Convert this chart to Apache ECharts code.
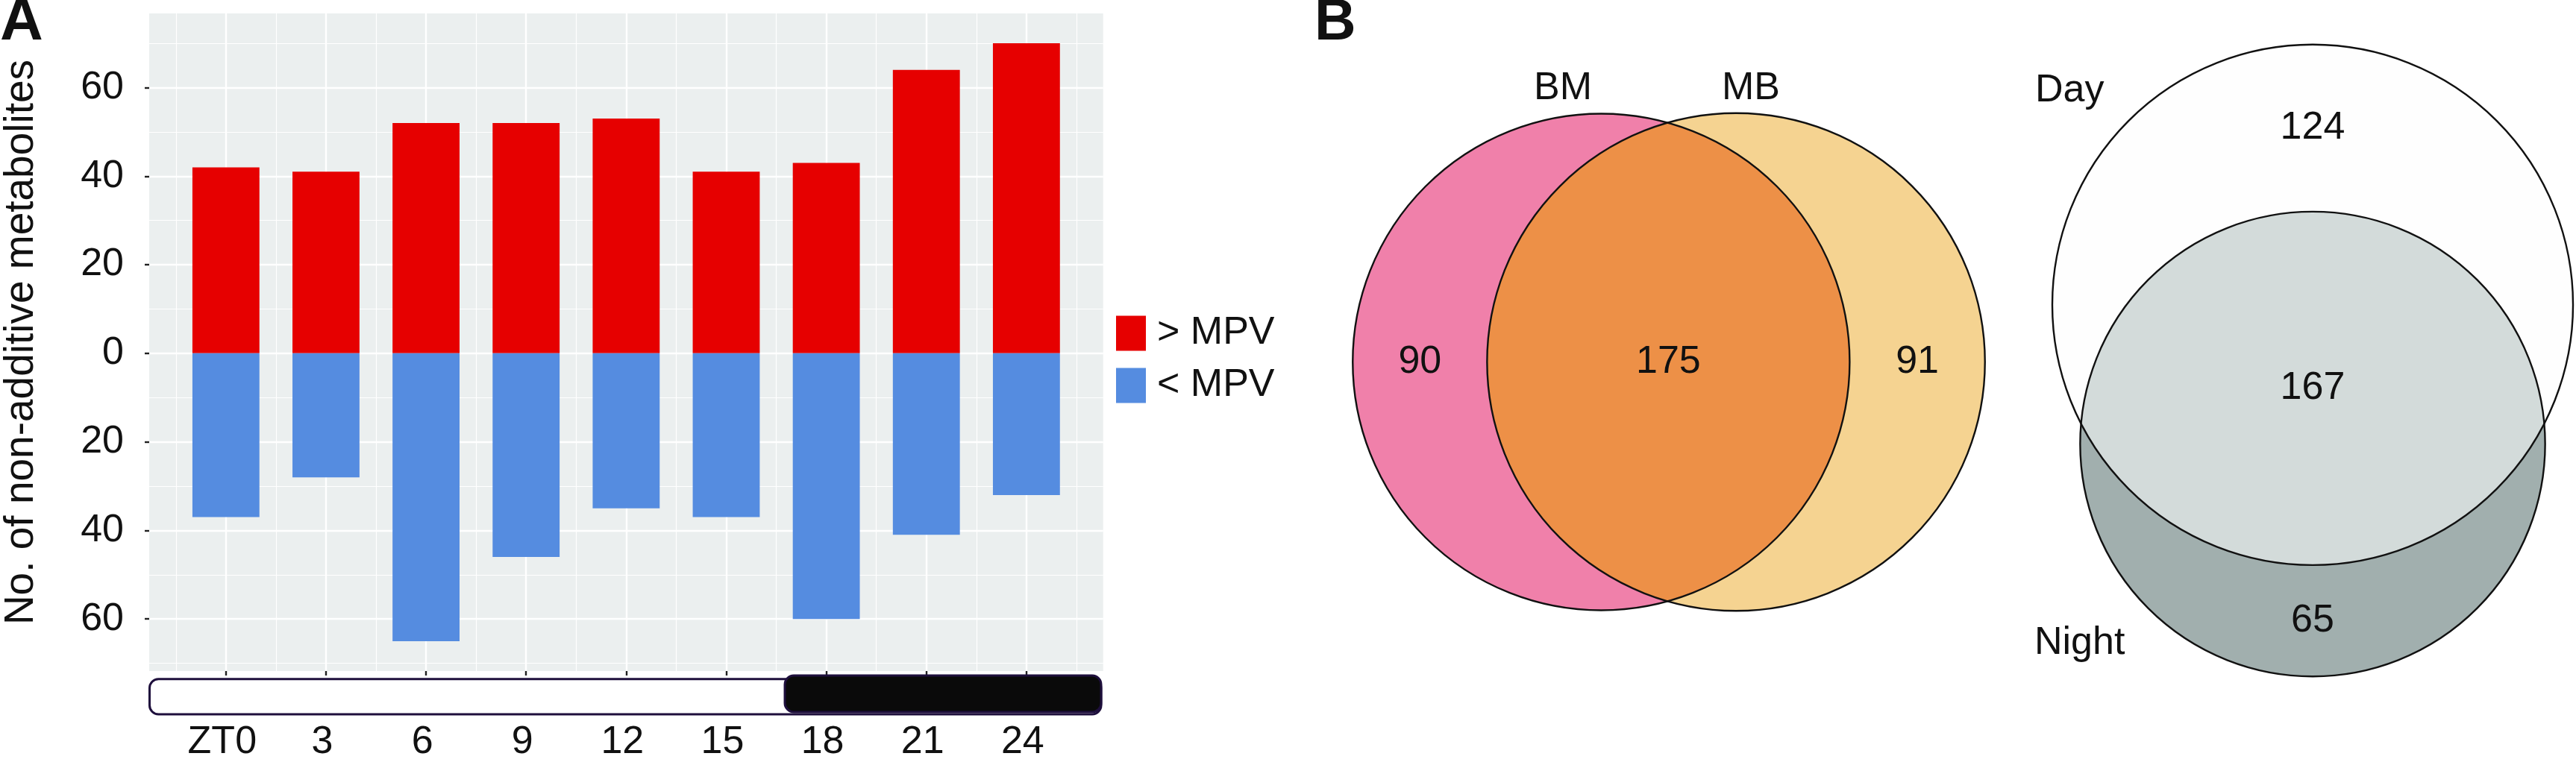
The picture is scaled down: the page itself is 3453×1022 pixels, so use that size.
<!DOCTYPE html>
<html><head><meta charset="utf-8">
<script src="https://cdn.jsdelivr.net/npm/echarts@6/dist/echarts.min.js"></script>
<style>html,body{margin:0;padding:0;background:#fff}#c{width:3453px;height:1022px}</style>
</head><body><div id="c"></div>
<script>
// ---------------- data ----------------
const timePoints = [0, 3, 6, 9, 12, 15, 18, 21, 24];
const timeLabels = ['ZT0', '3', '6', '9', '12', '15', '18', '21', '24'];
const aboveMPV = [42, 41, 52, 52, 53, 41, 43, 64, 70];
const belowMPV = [37, 28, 65, 46, 35, 37, 60, 41, 32];
const yTickValues = [-60, -40, -20, 0, 20, 40, 60];
const yMinorValues = [-70, -50, -30, -10, 10, 30, 50, 70];
const xMinorValues = [-1.5, 1.5, 4.5, 7.5, 10.5, 13.5, 16.5, 19.5, 22.5, 25.5];
const photoperiodNames = ['light', 'dark'];
const photoperiodStart = [-2.16, 16.8];
const photoperiodEnd = [26.24, 26.24];

const vennSetA = ['BM', 'Day'];
const vennSetB = ['MB', 'Night'];
const vennOnlyA = [90, 124];
const vennBoth = [175, 167];
const vennOnlyB = [91, 65];

// ---------------- layout / style ----------------
const FONT = '"Liberation Sans", Arial, Helvetica, sans-serif';
const TXT = '#111';
const GA = { left: 194.2, top: 18, width: 1284.5, height: 887.2 };
const X_MIN = -2.3, X_MAX = 26.3, Y_MIN = -71.75, Y_MAX = 76.75;
const BAR_W = 2 / (X_MAX - X_MIN) * GA.width;

const VENN_K = 20.46; // px per sqrt(count)
const VENN_LAYOUT = [
  { orient: 'h', center: [537, 485.5],
    fills: ['#F080AA', '#F5D391', '#ED9047'],
    labelA: { x: 395, y: 119, align: 'center' }, labelB: { x: 647, y: 119, align: 'center' } },
  { orient: 'v', center: [1400, 483.5],
    fills: ['#FEFEFE', '#A1AFAE', '#D3DBDA'],
    labelA: { x: 1028, y: 122, align: 'left' }, labelB: { x: 1027, y: 863, align: 'left' } }
];

function lensArea(r1, r2, d) {
  if (d >= r1 + r2) return 0;
  if (d <= Math.abs(r1 - r2)) return Math.PI * Math.min(r1, r2) ** 2;
  const a1 = Math.acos((d * d + r1 * r1 - r2 * r2) / (2 * d * r1));
  const a2 = Math.acos((d * d + r2 * r2 - r1 * r1) / (2 * d * r2));
  return r1 * r1 * (a1 - Math.sin(2 * a1) / 2) + r2 * r2 * (a2 - Math.sin(2 * a2) / 2);
}
function solveDistance(r1, r2, target) {
  let lo = Math.abs(r1 - r2), hi = r1 + r2;
  for (let k = 0; k < 80; k++) {
    const mid = (lo + hi) / 2;
    if (lensArea(r1, r2, mid) > target) lo = mid; else hi = mid;
  }
  return (lo + hi) / 2;
}

function renderVenn(params, api) {
  const i = params.dataIndex;
  const L = VENN_LAYOUT[i];
  const nA = vennOnlyA[i] + vennBoth[i], nB = vennOnlyB[i] + vennBoth[i];
  const rA = VENN_K * Math.sqrt(nA), rB = VENN_K * Math.sqrt(nB);
  const d = solveDistance(rA, rB, Math.PI * VENN_K * VENN_K * vennBoth[i]);
  const span = rA + d + rB;
  const dir = L.orient === 'h' ? [1, 0] : [0, 1];
  const start = L.orient === 'h' ? [L.center[0] - span / 2, L.center[1]] : [L.center[0], L.center[1] - span / 2];
  const cA = [start[0] + dir[0] * rA, start[1] + dir[1] * rA];
  const cB = [cA[0] + dir[0] * d, cA[1] + dir[1] * d];
  const px = p => api.coord(p);
  const sz = r => api.size([r, r])[0];
  const thAB = Math.atan2(dir[1], dir[0]), thBA = thAB + Math.PI;
  const aA = Math.acos((d * d + rA * rA - rB * rB) / (2 * d * rA));
  const aB = Math.acos((d * d + rB * rB - rA * rA) / (2 * d * rB));
  const pts = [];
  const N = 240;
  for (let k = 0; k <= N; k++) { const t = thAB - aA + 2 * aA * k / N; pts.push(px([cA[0] + rA * Math.cos(t), cA[1] + rA * Math.sin(t)])); }
  for (let k = 0; k <= N; k++) { const t = thBA - aB + 2 * aB * k / N; pts.push(px([cB[0] + rB * Math.cos(t), cB[1] + rB * Math.sin(t)])); }
  const pA = px(cA), pB = px(cB);
  const at = t => px([cA[0] + dir[0] * t, cA[1] + dir[1] * t]);
  const posOnlyA = at((-rA + d - rB) / 2);
  const posBoth = at((d - rB + rA) / 2);
  const posOnlyB = at((rA + d + rB) / 2);
  const txt = (s, p, align) => ({ type: 'text', style: { text: String(s), x: p[0], y: p[1], fill: TXT, fontSize: 52, fontFamily: FONT, align: align || 'center', verticalAlign: 'middle' } });
  const stroke = { fill: 'none', stroke: '#111', lineWidth: 2.4 };
  const la = px([L.labelA.x, L.labelA.y]), lb = px([L.labelB.x, L.labelB.y]);
  return {
    type: 'group',
    children: [
      { type: 'circle', shape: { cx: pA[0], cy: pA[1], r: sz(rA) }, style: { fill: L.fills[0] } },
      { type: 'circle', shape: { cx: pB[0], cy: pB[1], r: sz(rB) }, style: { fill: L.fills[1] } },
      { type: 'polygon', shape: { points: pts }, style: { fill: L.fills[2] } },
      { type: 'circle', shape: { cx: pA[0], cy: pA[1], r: sz(rA) }, style: stroke },
      { type: 'circle', shape: { cx: pB[0], cy: pB[1], r: sz(rB) }, style: stroke },
      txt(vennOnlyA[i], posOnlyA), txt(vennBoth[i], posBoth), txt(vennOnlyB[i], posOnlyB),
      txt(vennSetA[i], la, L.labelA.align), txt(vennSetB[i], lb, L.labelB.align)
    ]
  };
}

function renderPhoto(params, api) {
  const i = params.dataIndex;
  const dark = photoperiodNames[i] === 'dark';
  const y0 = dark ? 0 : 0.09, y1 = dark ? 0.94 : 1;
  const p0 = api.coord([api.value(0), y0]);
  const p1 = api.coord([api.value(1), y1]);
  return {
    type: 'rect',
    shape: { x: p0[0], y: p0[1], width: p1[0] - p0[0], height: p1[1] - p0[1], r: 12 },
    style: { fill: dark ? '#0A0A0A' : '#FFFFFF', stroke: '#1E0F3C', lineWidth: 3 }
  };
}

const noZero = { show: false, onZero: false };
const chart = echarts.init(document.getElementById('c'), null, { renderer: 'canvas' });
const option = {
  animation: false,
  backgroundColor: '#FFFFFF',
  textStyle: { fontFamily: FONT },
  title: [
    { text: 'A', left: 0, top: -9, padding: 0, textStyle: { fontSize: 80, fontWeight: 'bold', color: TXT, fontFamily: FONT } },
    { text: 'B', left: 1762, top: -7, padding: 0, textStyle: { fontSize: 77, fontWeight: 'bold', color: TXT, fontFamily: FONT } }
  ],
  legend: {
    orient: 'vertical', left: 1491, top: 416, itemWidth: 40, itemHeight: 47, itemGap: 18,
    icon: 'rect', selectedMode: false, data: ['> MPV', '< MPV'],
    textStyle: { fontSize: 52, color: TXT, fontFamily: FONT, padding: [0, 0, 0, 10] }
  },
  grid: [
    { left: GA.left, top: GA.top, width: GA.width, height: GA.height, show: true, backgroundColor: '#EBEFEF', borderWidth: 0 },
    { left: GA.left, top: 906, width: GA.width, height: 52 },
    { left: 1700, top: 0, width: 1753, height: 1022 }
  ],
  xAxis: [
    { type: 'value', gridIndex: 0, min: X_MIN, max: X_MAX, position: 'bottom',
      axisLine: noZero,
      axisTick: { show: true, length: 6, lineStyle: { color: '#222', width: 2.4 }, customValues: timePoints },
      axisLabel: { customValues: timePoints, margin: 70, fontSize: 52, color: TXT, fontFamily: FONT, padding: [0, 10, 0, 0],
        formatter: v => timeLabels[timePoints.indexOf(v)] },
      splitLine: { show: true, lineStyle: { color: '#FFFFFF', width: 2.4 } } },
    { type: 'value', gridIndex: 0, min: X_MIN, max: X_MAX, position: 'top',
      axisLine: noZero, axisTick: { show: false, customValues: xMinorValues },
      axisLabel: { show: false, customValues: xMinorValues },
      splitLine: { show: true, lineStyle: { color: '#FFFFFF', width: 1.2 } } },
    { type: 'value', gridIndex: 1, min: X_MIN, max: X_MAX, show: false, axisLine: noZero },
    { type: 'value', gridIndex: 2, min: 0, max: 1753, show: false, axisLine: noZero }
  ],
  yAxis: [
    { type: 'value', gridIndex: 0, min: Y_MIN, max: Y_MAX, position: 'left',
      name: 'No. of non-additive metabolites', nameLocation: 'middle', nameGap: 144,
      nameTextStyle: { fontSize: 55, color: TXT, fontFamily: FONT },
      axisLine: noZero,
      axisTick: { show: true, length: 6, lineStyle: { color: '#222', width: 2.4 }, customValues: yTickValues },
      axisLabel: { customValues: yTickValues, margin: 34, fontSize: 52, color: TXT, fontFamily: FONT, formatter: v => String(Math.abs(v)) },
      splitLine: { show: true, lineStyle: { color: '#FFFFFF', width: 2.4 } } },
    { type: 'value', gridIndex: 0, min: Y_MIN, max: Y_MAX, position: 'right',
      axisLine: noZero, axisTick: { show: false, customValues: yMinorValues },
      axisLabel: { show: false, customValues: yMinorValues },
      splitLine: { show: true, lineStyle: { color: '#FFFFFF', width: 1.2 } } },
    { type: 'value', gridIndex: 1, min: 0, max: 1, inverse: true, show: false, axisLine: noZero },
    { type: 'value', gridIndex: 2, min: 0, max: 1022, inverse: true, show: false, axisLine: noZero }
  ],
  series: [
    { type: 'bar', name: '> MPV', xAxisIndex: 0, yAxisIndex: 0, stack: 'mpv', barWidth: BAR_W,
      itemStyle: { color: '#E60000' }, data: timePoints.map((t, i) => [t, aboveMPV[i]]) },
    { type: 'bar', name: '< MPV', xAxisIndex: 0, yAxisIndex: 0, stack: 'mpv', barWidth: BAR_W,
      itemStyle: { color: '#558CE0' }, data: timePoints.map((t, i) => [t, -belowMPV[i]]) },
    { type: 'custom', name: 'photoperiod', xAxisIndex: 2, yAxisIndex: 2, clip: false, z: 3,
      renderItem: renderPhoto, data: photoperiodStart.map((s, i) => [s, photoperiodEnd[i], i]) },
    { type: 'custom', name: 'venn', xAxisIndex: 3, yAxisIndex: 3, clip: false,
      renderItem: renderVenn, data: vennSetA.map((s, i) => [i]) }
  ]
};
chart.setOption(option);
</script>
</body></html>
